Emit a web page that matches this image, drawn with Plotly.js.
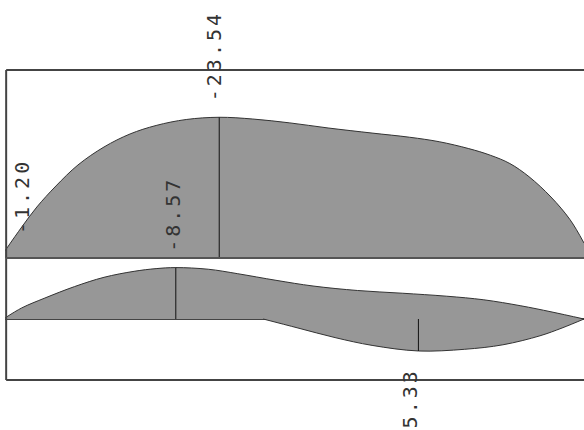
<!DOCTYPE html>
<html>
<head>
<meta charset="utf-8">
<script src="https://cdn.plot.ly/plotly-3.0.1.min.js"></script>
<style>
html,body{margin:0;padding:0;background:#fff;}
#chart{width:584px;height:430px;}
.annotation-text{letter-spacing:3px;}
</style>
</head>
<body>
<div id="chart"></div>
<script>
// Top panel: moment diagram (negative values drawn upward)
var topX = [0, 0.29, 0.55, 0.88, 1.26, 1.71, 2.16, 2.61, 3.13, 3.70, 4.28, 4.92, 5.58, 6.34, 6.99, 7.50, 8.01, 8.38, 8.72, 9.05, 9.43, 9.76, 10.0];
var topY = [-1.20, -5.19, -8.53, -12.05, -15.56, -18.57, -20.75, -22.17, -23.17, -23.54, -23.25, -22.6, -21.75, -20.9, -20.2, -19.45, -18.3, -17.2, -15.8, -13.6, -10.2, -6.4, -2.5];

// Bottom panel: envelope, minimum (negative) curve
var minX = [0, 0.29, 0.69, 1.20, 1.71, 2.23, 2.61, 2.95, 3.51, 4.02, 4.68, 5.32, 6.09, 6.86, 7.63, 8.27, 8.91, 9.43, 10.0];
var minY = [-0.17, -1.85, -3.5, -5.4, -6.95, -7.95, -8.4, -8.57, -8.3, -7.55, -6.45, -5.5, -4.75, -4.3, -3.8, -3.2, -2.2, -1.2, 0];

// Bottom panel: envelope, maximum (positive) curve
var maxX = [4.46, 5.06, 5.70, 6.34, 7.14, 7.94, 8.60, 9.24, 9.62, 10.0];
var maxY = [0, 1.5, 3.1, 4.4, 5.33, 5.05, 4.3, 2.8, 1.5, 0];

// Peak markers
var peakTopX = 3.70, peakTopY = -23.54;
var peakMinX = 2.95, peakMinY = -8.57;
var peakMaxX = 7.14, peakMaxY = 5.33;
var startX = 0, startY = -1.20;

var labels = ["-23.54", "-1.20", "-8.57", "5.33"];

var fillC = '#979797', lineC = '#333333';

var traces = [
  {x: topX, y: topY, xaxis: 'x', yaxis: 'y', type: 'scatter', mode: 'lines',
   fill: 'tozeroy', fillcolor: fillC, line: {color: lineC, width: 1, shape: 'spline', smoothing: 1}, hoverinfo: 'skip'},
  {x: minX, y: minY, xaxis: 'x', yaxis: 'y2', type: 'scatter', mode: 'lines',
   fill: 'tozeroy', fillcolor: fillC, line: {color: lineC, width: 1, shape: 'spline', smoothing: 1}, hoverinfo: 'skip'},
  {x: maxX, y: maxY, xaxis: 'x', yaxis: 'y2', type: 'scatter', mode: 'lines',
   fill: 'tozeroy', fillcolor: fillC, line: {color: lineC, width: 1, shape: 'spline', smoothing: 1}, hoverinfo: 'skip'},
  {x: [peakTopX, peakTopX], y: [0, peakTopY], xaxis: 'x', yaxis: 'y', type: 'scatter', mode: 'lines',
   line: {color: '#111', width: 1}, hoverinfo: 'skip'},
  {x: [peakMinX, peakMinX], y: [0, peakMinY], xaxis: 'x', yaxis: 'y2', type: 'scatter', mode: 'lines',
   line: {color: '#111', width: 1}, hoverinfo: 'skip'},
  {x: [peakMaxX, peakMaxX], y: [0, peakMaxY], xaxis: 'x', yaxis: 'y2', type: 'scatter', mode: 'lines',
   line: {color: '#111', width: 1}, hoverinfo: 'skip'}
];

var sep = (380 - 258) / 310;
var labFont = {family: 'DejaVu Sans Mono', size: 20, color: '#333'};

function lab(text, x, py, xs) {
  return {text: text, x: x, xref: 'x', y: (380 - py) / 310, yref: 'paper', textangle: -90,
          showarrow: false, font: labFont, xanchor: 'center', yanchor: 'middle', xshift: xs};
}

var layout = {
  width: 584, height: 430,
  margin: {l: 5, r: 0, t: 70, b: 50, pad: 0},
  paper_bgcolor: '#fff', plot_bgcolor: '#fff',
  showlegend: false,
  xaxis: {range: [0, 10], showgrid: false, zeroline: false, showticklabels: false, ticks: '', showline: false, fixedrange: true},
  yaxis: {domain: [sep, 1], range: [0, -31.45], showgrid: false, zeroline: false, showticklabels: false, ticks: '', fixedrange: true},
  yaxis2: {domain: [0, sep], range: [10.17, -10.17], showgrid: false, zeroline: true, zerolinecolor: '#444', zerolinewidth: 2,
           showticklabels: false, ticks: '', fixedrange: true, anchor: 'x'},
  shapes: [
    {type: 'line', xref: 'paper', yref: 'paper', x0: 0.002, x1: 1.05, y0: 1, y1: 1, line: {color: '#444', width: 2}},
    {type: 'line', xref: 'paper', yref: 'paper', x0: 0.002, x1: 1.05, y0: 0, y1: 0, line: {color: '#444', width: 2}},
    {type: 'line', xref: 'paper', yref: 'paper', x0: 0.002, x1: 0.002, y0: 0, y1: 1, line: {color: '#444', width: 2}},
    {type: 'line', xref: 'paper', yref: 'paper', x0: 0.002, x1: 1.05, y0: sep, y1: sep, line: {color: '#555', width: 2}}
  ],
  annotations: [
    lab(labels[0], peakTopX, 56, -5),
    lab(labels[1], startX, 197, 17),
    lab(labels[2], peakMinX, 214, -3),
    lab(labels[3], peakMaxX, 398, -8)
  ]
};

Plotly.newPlot('chart', traces, layout, {staticPlot: true, displayModeBar: false});
</script>
</body>
</html>
